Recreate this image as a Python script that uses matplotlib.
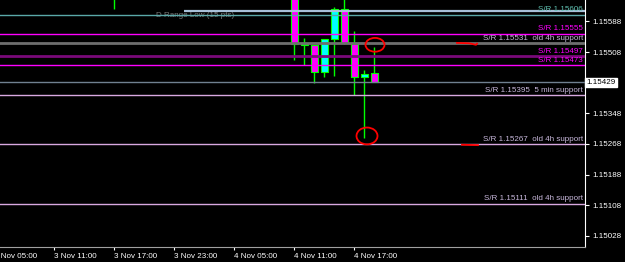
import matplotlib.pyplot as plt
from matplotlib.patches import Ellipse
import matplotlib.transforms as mtransforms

plt.rcParams['font.family'] = ['Liberation Sans', 'DejaVu Sans']

# hourly candles, x = hours since 3 Nov 00:00
bar_hour = [17, 35, 36, 37, 38, 39, 40, 41, 42, 43]
bar_open = [1.15700, 1.15690, 1.15530, 1.15527, 1.15457, 1.15542, 1.15621, 1.15530, 1.15442, 1.15454]
bar_high = [1.15720, 1.15700, 1.15546, 1.15527, 1.15542, 1.15627, 1.15650, 1.15564, 1.15461, 1.15522]
bar_low = [1.15621, 1.15487, 1.15474, 1.15427, 1.15443, 1.15446, 1.15530, 1.15396, 1.15284, 1.15429]
bar_close = [1.15680, 1.15528, 1.15526, 1.15455, 1.15542, 1.15621, 1.15531, 1.15444, 1.15451, 1.15429]

# support / resistance levels
sr_levels = [1.15606, 1.15555, 1.15531, 1.15497, 1.15473, 1.15395, 1.15267, 1.15111]
sr_notes = ['', '', 'old 4h support', '', '', '5 min support', 'old 4h support', 'old 4h support']
sr_line_colors = ['#5aa8a8', '#ff00ff', '#6e6e6e', '#7a0a7a', '#ff00ff', '#d8a8e0', '#d8a8e0', '#d8a8e0']
sr_text_colors = ['#5fc0b0', '#ff00ff', '#c8b8dc', '#ff00ff', '#ff00ff', '#c8b8dc', '#c8b8dc', '#c8b8dc']
sr_widths = [1.0, 1.0, 2.0, 2.0, 1.0, 1.0, 1.0, 1.0]

# daily range low line and current price
range_low = 1.15614
range_start = 24
current_price = 1.15429

# axis ticks
price_ticks = [1.15588, 1.15508, 1.15348, 1.15268, 1.15188, 1.15108, 1.15028]
time_ticks = [5, 11, 17, 23, 29, 35, 41]
time_labels = ['3 Nov 05:00', '3 Nov 11:00', '3 Nov 17:00', '3 Nov 23:00',
               '4 Nov 05:00', '4 Nov 11:00', '4 Nov 17:00']

# red hand drawn marks (hour, price, width, height)
circles = [(43.1, 1.15527, 1.9, 0.00036), (42.3, 1.15289, 2.1, 0.00044)]
dash_x = [[51.3, 52.5, 53.2, 53.3], [51.8, 53.4]]
dash_y = [[1.15532, 1.15531, 1.15527, 1.15530], [1.15266, 1.15265]]

fig = plt.figure(figsize=(6.25, 2.62), dpi=100, facecolor='black')
ax = fig.add_axes([0, 15 / 262, 585 / 625, 247 / 262])
ax.set_facecolor('black')
ax.set_xlim(5.6, 64.1)
ax.set_ylim(1.14999, 1.15644)

# candles
for h, o, hi, lo, c in zip(bar_hour, bar_open, bar_high, bar_low, bar_close):
    ax.vlines(h, lo, hi, color='#00ff00', linewidth=1.0, zorder=2)
    fill = '#00ffff' if c > o else '#ff00ff'
    ax.bar(h, max(abs(c - o), 0.00002), bottom=min(o, c), width=0.7,
           color=fill, edgecolor='#00ff00', linewidth=0.8, zorder=3)

# S/R lines with labels
trans = mtransforms.blended_transform_factory(ax.transAxes, ax.transData)
for lvl, note, lc, tc, lw in zip(sr_levels, sr_notes, sr_line_colors, sr_text_colors, sr_widths):
    ax.axhline(lvl, color=lc, linewidth=lw, zorder=4)
    label = 'S/R %.5f' % lvl
    if note:
        label += '  ' + note
    ax.annotate(label, xy=(0.997, lvl), xycoords=trans, xytext=(0, 1.2),
                textcoords='offset points', ha='right', va='bottom',
                color=tc, fontsize=5.8, zorder=5)

ax.hlines(range_low, range_start, 64.1, color='#a8c0d8', linewidth=1.6, zorder=4)
ax.text(21.2, range_low - 0.00011, 'D Range Low (15 pts)', color='#7a7a7a',
        fontsize=5.8, va='center', ha='left', zorder=3)
ax.axhline(current_price, color='#708090', linewidth=1.0, zorder=4)

# red marks
for cx, cy, w, hgt in circles:
    ax.add_patch(Ellipse((cx, cy), w, hgt, fill=False, edgecolor='red', linewidth=1.3, zorder=6))
for xs, ys in zip(dash_x, dash_y):
    ax.plot(xs, ys, color='red', linewidth=1.3, zorder=6)

# axes styling
for side in ['top', 'left']:
    ax.spines[side].set_visible(False)
ax.spines['right'].set_color('white')
ax.spines['bottom'].set_color('#a0a0a0')
ax.yaxis.tick_right()
ax.set_yticks(price_ticks)
ax.set_yticklabels(['%.5f' % p for p in price_ticks])
ax.tick_params(axis='y', colors='white', labelsize=5.8, length=3, pad=2)
ax.set_xticks(time_ticks[1:])
ax.set_xticklabels(time_labels[1:], ha='left')
ax.tick_params(axis='x', colors='white', labelsize=5.8, length=2.5, pad=1.5)
# first label sits left of the visible range, so it is cut at the edge
xtrans = mtransforms.blended_transform_factory(ax.transData, ax.transAxes)
ax.annotate(time_labels[0], xy=(time_ticks[0], 0), xycoords=xtrans, xytext=(0, -4),
            textcoords='offset points', color='white', fontsize=5.8,
            ha='left', va='top', annotation_clip=False)

# current price box on the right scale
ax.annotate('%.5f' % current_price, xy=(1.0, current_price), xycoords=trans,
            xytext=(1.2, 0), textcoords='offset points', ha='left', va='center',
            color='black', fontsize=5.8, annotation_clip=False,
            bbox=dict(boxstyle='square,pad=0.15', facecolor='white', edgecolor='white'))

plt.savefig('out.png', dpi=100, facecolor='black')
